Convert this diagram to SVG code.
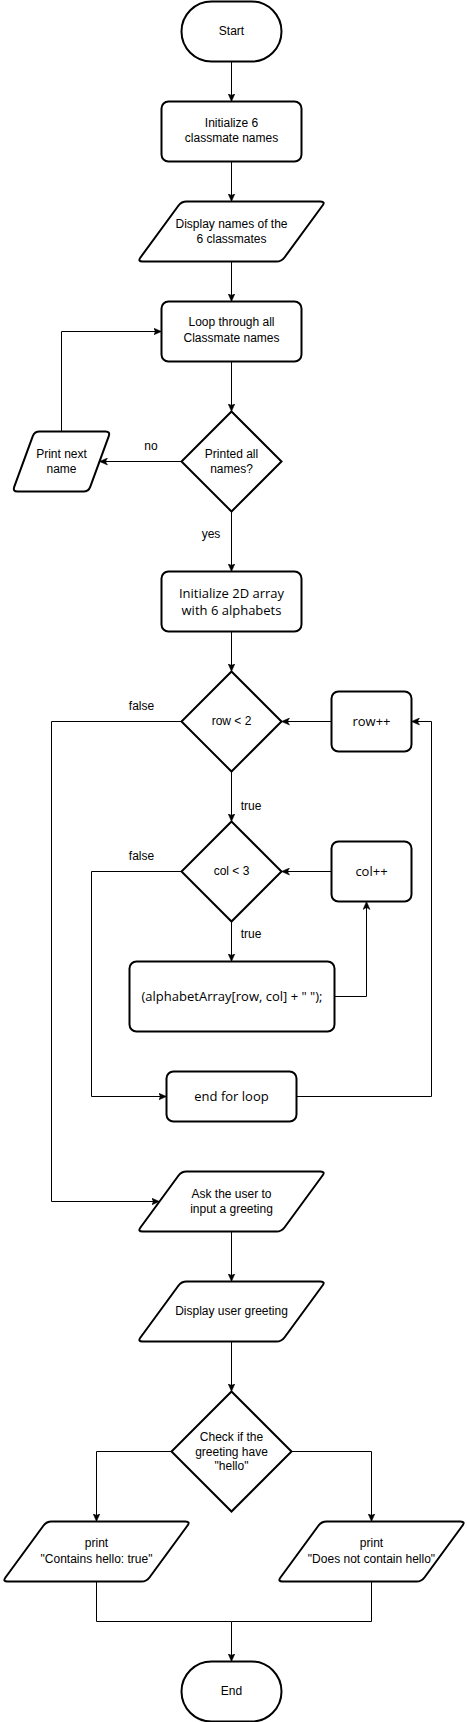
<svg xmlns="http://www.w3.org/2000/svg" width="467" height="1722" viewBox="0 0 467 1722">
<style>
.s{fill:#fff;stroke:#000;stroke-width:2}
.c{fill:none;stroke:#000;stroke-width:1}
.t{font-family:"Liberation Sans",Arial,sans-serif;font-size:12px;fill:#000;text-anchor:middle}
.o{font-family:"Open Sans","Noto Sans",sans-serif;font-size:13px;fill:#000;text-anchor:middle}
</style>
<defs>
<marker id="a" viewBox="0 0 8 8" refX="8" refY="4" markerWidth="8" markerHeight="8" markerUnits="userSpaceOnUse" orient="auto">
<path d="M0,0.5 L8,4 L0,7.5 L2,4 Z" fill="#000" stroke="#000" stroke-width="0.5"/>
</marker>
<path id="pg" d="M49,0 L183,0 Q188,0 185.04,4.03 L146.96,55.97 Q144,60 139,60 L5,60 Q0,60 2.96,55.97 L41.04,4.03 Q44,0 49,0 Z"/>
<path id="pgs" d="M27,0 L93,0 Q98,0 96.28,4.69 L77.72,55.31 Q76,60 71,60 L5,60 Q0,60 1.72,55.31 L20.28,4.69 Q22,0 27,0 Z"/>
</defs>
<rect width="467" height="1722" fill="#fff"/>

<g id="connectors">
<path class="c" d="M231.5,61.5 V101.5" marker-end="url(#a)"/>
<path class="c" d="M231.5,161.5 V201.5" marker-end="url(#a)"/>
<path class="c" d="M231.5,261.5 V301.5" marker-end="url(#a)"/>
<path class="c" d="M231.5,361.5 V411.5" marker-end="url(#a)"/>
<path class="c" d="M181.5,461.5 H99.5" marker-end="url(#a)"/>
<path class="c" d="M61.5,431.5 V331.5 H161.5" marker-end="url(#a)"/>
<path class="c" d="M231.5,511.5 V571.5" marker-end="url(#a)"/>
<path class="c" d="M231.5,631.5 V671.5" marker-end="url(#a)"/>
<path class="c" d="M181.5,721.5 H51.5 V1201.5 H159.5" marker-end="url(#a)"/>
<path class="c" d="M231.5,771.5 V821.5" marker-end="url(#a)"/>
<path class="c" d="M331.5,721.5 H281.5" marker-end="url(#a)"/>
<path class="c" d="M181.5,871.5 H91.5 V1096.5 H166.5" marker-end="url(#a)"/>
<path class="c" d="M231.5,921.5 V961.5" marker-end="url(#a)"/>
<path class="c" d="M331.5,871.5 H281.5" marker-end="url(#a)"/>
<path class="c" d="M334.5,996.5 H366.5 V901.5" marker-end="url(#a)"/>
<path class="c" d="M296.5,1096.5 H431.5 V721.5 H411.5" marker-end="url(#a)"/>
<path class="c" d="M231.5,1231.5 V1281.5" marker-end="url(#a)"/>
<path class="c" d="M231.5,1341.5 V1391.5" marker-end="url(#a)"/>
<path class="c" d="M171.5,1451.5 H96.5 V1521.5" marker-end="url(#a)"/>
<path class="c" d="M291.5,1451.5 H371.5 V1521.5" marker-end="url(#a)"/>
<path class="c" d="M96.5,1581.5 V1621.5 H231.5 V1661.5" marker-end="url(#a)"/>
<path class="c" d="M371.5,1581.5 V1621.5 H231.5"/>
<text class="t" x="151" y="450">no</text>
<text class="t" x="211" y="538">yes</text>
<text class="t" x="141.5" y="710">false</text>
<text class="t" x="251" y="810">true</text>
<text class="t" x="141.5" y="860">false</text>
<text class="t" x="251" y="938">true</text>
</g>

<g id="start">
<rect class="s" x="181.5" y="1.5" width="100" height="60" rx="30"/>
<text class="t" x="231.5" y="35">Start</text>
</g>
<g id="init-names">
<rect class="s" x="161.5" y="101.5" width="140" height="60" rx="7"/>
<text class="t" x="231.5" y="127">Initialize 6</text>
<text class="t" x="231.5" y="142">classmate names</text>
</g>
<g id="display-names">
<use href="#pg" class="s" transform="translate(137.5,201.5)"/>
<text class="t" x="231.5" y="228">Display names of the</text>
<text class="t" x="231.5" y="243">6 classmates</text>
</g>
<g id="loop">
<rect class="s" x="161.5" y="301.5" width="140" height="60" rx="7"/>
<text class="t" x="231.5" y="326">Loop through all</text>
<text class="t" x="231.5" y="342">Classmate names</text>
</g>
<g id="printed-all">
<path class="s" d="M231.5,411.5 L281.5,461.5 L231.5,511.5 L181.5,461.5 Z"/>
<text class="t" x="231.5" y="458">Printed all</text>
<text class="t" x="231.5" y="473">names?</text>
</g>
<g id="print-next">
<use href="#pgs" class="s" transform="translate(12.5,431.5)"/>
<text class="t" x="61.5" y="458">Print next</text>
<text class="t" x="61.5" y="473">name</text>
</g>
<g id="init-array">
<rect class="s" x="161.5" y="571.5" width="140" height="60" rx="7"/>
<text class="o" x="231.5" y="598">Initialize 2D array</text>
<text class="o" x="231.5" y="615">with 6 alphabets</text>
</g>
<g id="row-check">
<path class="s" d="M231.5,671.5 L281.5,721.5 L231.5,771.5 L181.5,721.5 Z"/>
<text class="t" x="231.5" y="725">row &lt; 2</text>
</g>
<g id="row-inc">
<rect class="s" x="331.5" y="691.5" width="80" height="60" rx="7"/>
<text class="o" x="371.5" y="726">row++</text>
</g>
<g id="col-check">
<path class="s" d="M231.5,821.5 L281.5,871.5 L231.5,921.5 L181.5,871.5 Z"/>
<text class="t" x="231.5" y="875">col &lt; 3</text>
</g>
<g id="col-inc">
<rect class="s" x="331.5" y="841.5" width="80" height="60" rx="7"/>
<text class="o" x="371.5" y="876">col++</text>
</g>
<g id="print-array">
<rect class="s" x="129.5" y="961.5" width="205" height="70" rx="7"/>
<text class="o" x="232" y="1001">(alphabetArray[row, col] + " ");</text>
</g>
<g id="end-loop">
<rect class="s" x="166.5" y="1071.5" width="130" height="50" rx="7"/>
<text class="o" x="231.5" y="1101">end for loop</text>
</g>
<g id="ask-greeting">
<use href="#pg" class="s" transform="translate(137.5,1171.5)"/>
<text class="t" x="231.5" y="1198">Ask the user to</text>
<text class="t" x="231.5" y="1213">input a greeting</text>
</g>
<g id="display-greeting">
<use href="#pg" class="s" transform="translate(137.5,1281.5)"/>
<text class="t" x="231.5" y="1315">Display user greeting</text>
</g>
<g id="check-hello">
<path class="s" d="M231.5,1391.5 L291.5,1451.5 L231.5,1511.5 L171.5,1451.5 Z"/>
<text class="t" x="231.5" y="1441">Check if the</text>
<text class="t" x="231.5" y="1455.5">greeting have</text>
<text class="t" x="231.5" y="1470">"hello"</text>
</g>
<g id="print-true">
<use href="#pg" class="s" transform="translate(2.5,1521.5)"/>
<text class="t" x="96.5" y="1547">print</text>
<text class="t" x="96.5" y="1563">"Contains hello: true"</text>
</g>
<g id="print-false">
<use href="#pg" class="s" transform="translate(277.5,1521.5)"/>
<text class="t" x="371.5" y="1547">print</text>
<text class="t" x="371.5" y="1563">"Does not contain hello"</text>
</g>
<g id="end">
<rect class="s" x="181.5" y="1661.5" width="100" height="60" rx="30"/>
<text class="t" x="231.5" y="1695">End</text>
</g>
</svg>
